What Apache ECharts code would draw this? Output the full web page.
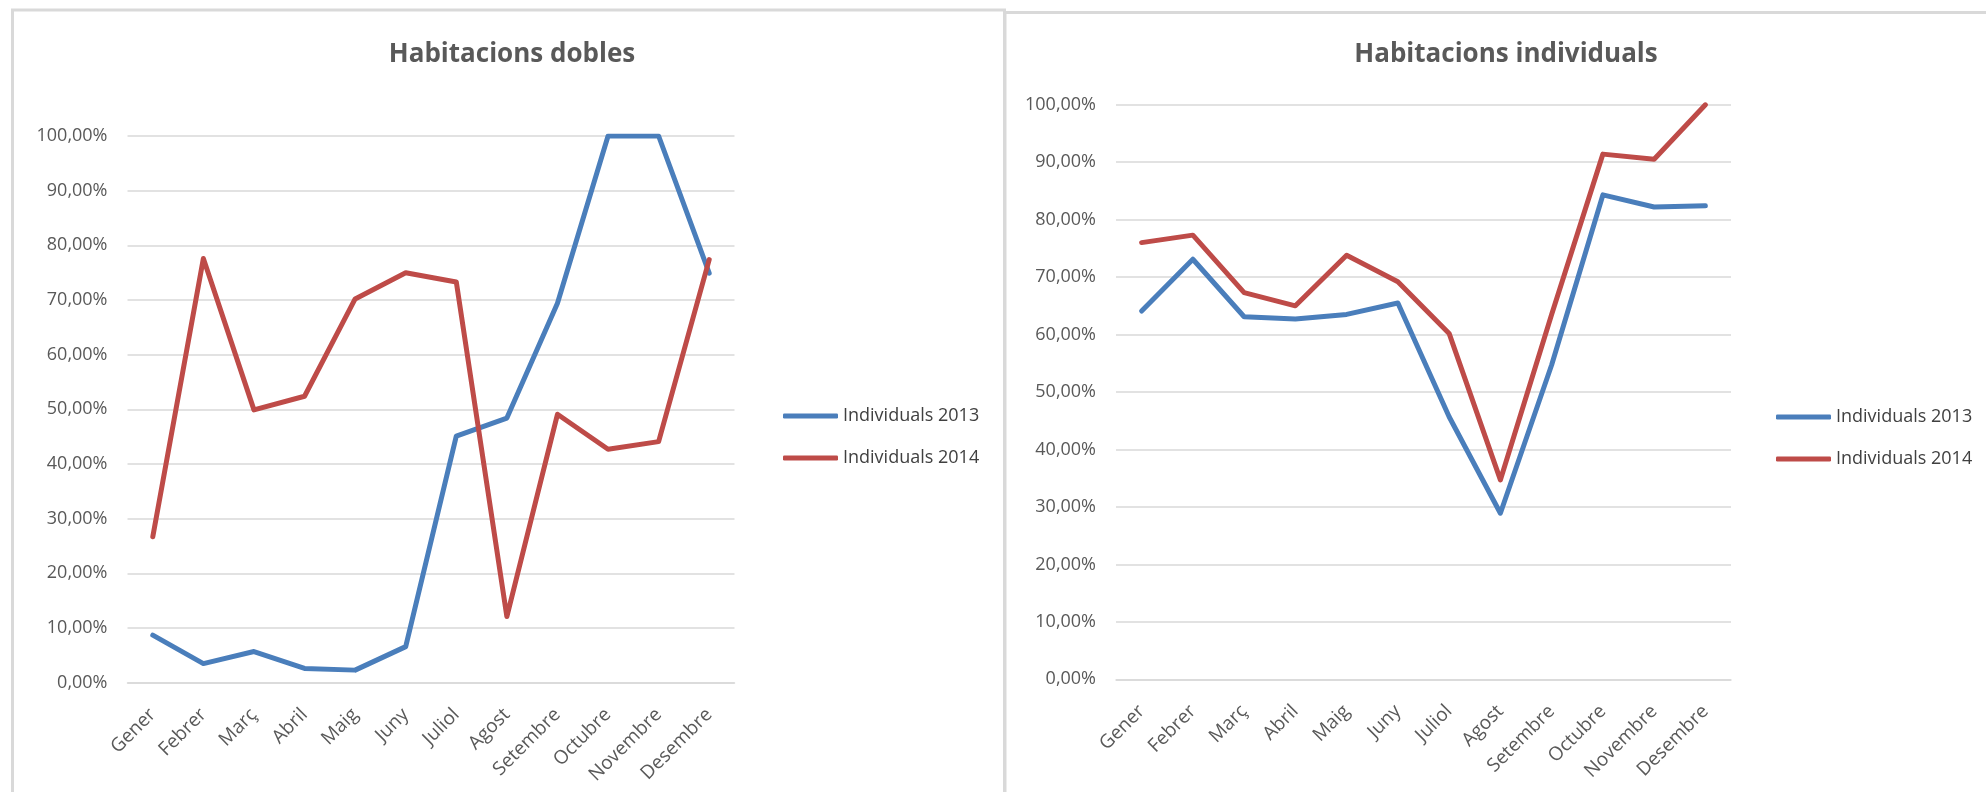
<!DOCTYPE html>
<html>
<head>
<meta charset="utf-8">
<script src="https://cdn.jsdelivr.net/npm/echarts@6/dist/echarts.min.js"></script>
<style>
html, body { margin: 0; padding: 0; background: #fff; }
#chart { width: 1986px; height: 792px; }
</style>
</head>
<body>
<div id="chart"></div>
<script>
const months = ['Gener', 'Febrer', 'Març', 'Abril', 'Maig', 'Juny', 'Juliol', 'Agost', 'Setembre', 'Octubre', 'Novembre', 'Desembre'];
const seriesNames = ['Individuals 2013', 'Individuals 2014'];

// Habitacions dobles (%)
const dobles2013 = [8.7, 3.5, 5.7, 2.6, 2.3, 6.6, 45.1, 48.4, 69.4, 100, 100, 74.9];
const dobles2014 = [26.7, 77.6, 49.9, 52.4, 70.2, 75.0, 73.3, 12.1, 49.1, 42.7, 44.1, 77.4];

// Habitacions individuals (%)
const indiv2013 = [64.1, 73.1, 63.1, 62.7, 63.5, 65.5, 45.7, 28.9, 54.7, 84.3, 82.2, 82.4];
const indiv2014 = [76.0, 77.3, 67.3, 65.0, 73.8, 69.2, 60.2, 34.7, 63.5, 91.4, 90.5, 100];

const yTicks = { min: 0, max: 100, interval: 10 };

const FONT = "'Open Sans', sans-serif";
const TXT = '#595959';
const GRIDCOL = '#d9d9d9';
const BLUE = '#4a7ebb';
const RED = '#be4b48';

function pct(v) {
    return v.toFixed(2).replace('.', ',') + '%';
}

function xAxisFor(idx) {
    return {
        type: 'category',
        gridIndex: idx,
        data: months,
        boundaryGap: true,
        axisLine: { lineStyle: { color: GRIDCOL, width: 1.5 } },
        axisTick: { show: false },
        axisLabel: {
            rotate: 45,
            interval: 0,
            margin: 29,
            color: TXT,
            fontFamily: FONT,
            fontSize: 19
        }
    };
}

function yAxisFor(idx) {
    return {
        type: 'value',
        gridIndex: idx,
        min: yTicks.min,
        max: yTicks.max,
        interval: yTicks.interval,
        axisLine: { show: false },
        axisTick: { show: false },
        splitLine: { lineStyle: { color: GRIDCOL, width: 1.5 } },
        axisLabel: {
            margin: 20,
            color: TXT,
            fontFamily: FONT,
            fontSize: 18,
            formatter: pct
        }
    };
}

function lineSeries(name, data, color, idx) {
    return {
        name: name,
        type: 'line',
        xAxisIndex: idx,
        yAxisIndex: idx,
        data: data,
        symbol: 'none',
        smooth: false,
        color: color,
        lineStyle: { color: color, width: 5, cap: 'round', join: 'round' }
    };
}

function legendFor(left, top) {
    return {
        orient: 'vertical',
        left: left,
        top: top,
        icon: 'roundRect',
        itemWidth: 55,
        itemHeight: 5,
        itemGap: 22,
        data: seriesNames,
        selectedMode: false,
        textStyle: { color: '#404040', fontFamily: FONT, fontSize: 18, lineHeight: 20 }
    };
}

const option = {
    animation: false,
    backgroundColor: '#fff',
    title: [
        {
            text: 'Habitacions dobles',
            left: 507, top: 37, textAlign: 'center',
            textStyle: { color: TXT, fontFamily: FONT, fontSize: 26, fontWeight: 'bold' }
        },
        {
            text: 'Habitacions individuals',
            left: 1501, top: 37, textAlign: 'center',
            textStyle: { color: TXT, fontFamily: FONT, fontSize: 26, fontWeight: 'bold' }
        }
    ],
    legend: [legendFor(778, 401), legendFor(1771, 402)],
    grid: [
        { left: 127.5, top: 136, width: 607, height: 546.7 },
        { left: 1116, top: 104.7, width: 615, height: 574.6 }
    ],
    xAxis: [xAxisFor(0), xAxisFor(1)],
    yAxis: [yAxisFor(0), yAxisFor(1)],
    series: [
        lineSeries(seriesNames[0], dobles2013, BLUE, 0),
        lineSeries(seriesNames[1], dobles2014, RED, 0),
        lineSeries(seriesNames[0], indiv2013, BLUE, 1),
        lineSeries(seriesNames[1], indiv2014, RED, 1)
    ],
    graphic: [
        // marcs dels dos gràfics
        {
            type: 'rect', silent: true,
            shape: { x: 12.5, y: 10, width: 992, height: 820 },
            style: { fill: 'none', stroke: GRIDCOL, lineWidth: 3 }
        },
        {
            type: 'rect', silent: true,
            shape: { x: 1005, y: 12.5, width: 1020, height: 820 },
            style: { fill: 'none', stroke: GRIDCOL, lineWidth: 3 }
        }
    ]
};

const chart = echarts.init(document.getElementById('chart'));
chart.setOption(option);
</script>
</body>
</html>
